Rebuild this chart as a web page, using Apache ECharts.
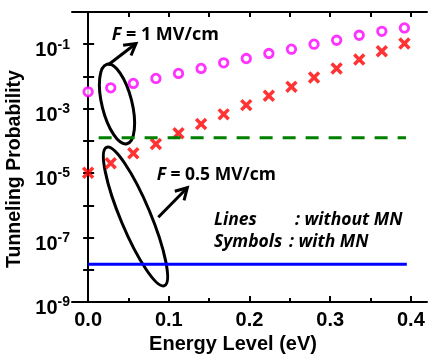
<!DOCTYPE html>
<html>
<head>
<meta charset="utf-8">
<script src="https://cdn.jsdelivr.net/npm/echarts@6/dist/echarts.min.js"></script>
<style>
html,body{margin:0;padding:0;background:#fff;}
#chart{width:429px;height:354px;}
</style>
</head>
<body>
<div id="chart"></div>
<script>
// ---- data ----
var energy = [0, 0.028, 0.056, 0.084, 0.112, 0.14, 0.168, 0.196, 0.224, 0.252, 0.28, 0.308, 0.336, 0.364, 0.392];
var withMN1 = [3.33e-3, 4.44e-3, 6.07e-3, 8.67e-3, 1.24e-2, 1.77e-2, 2.64e-2, 3.61e-2, 5.15e-2, 7.0e-2, 1.0e-1, 1.33e-1, 1.90e-1, 2.52e-1, 3.20e-1];
var withMN05 = [1.03e-5, 2.03e-5, 4.13e-5, 8.02e-5, 1.72e-4, 3.33e-4, 6.67e-4, 1.29e-3, 2.51e-3, 4.76e-3, 9.31e-3, 1.77e-2, 3.36e-2, 6.07e-2, 1.05e-1];
var lineX1 = [0.013, 0.394];
var noMN1 = [1.26e-4, 1.26e-4];
var lineX05 = [0, 0.395];
var noMN05 = [1.48e-8, 1.48e-8];
var xLabels = [0, 0.1, 0.2, 0.3, 0.4];
var xMinor = [0.05, 0.15, 0.25, 0.35];
var xTop = [0, 0.05, 0.1, 0.15, 0.2, 0.25, 0.3, 0.35, 0.4];

function pairs(xs, ys){ return xs.map(function(x,i){ return [x, ys[i]]; }); }

var chart = echarts.init(document.getElementById('chart'), null, {renderer:'canvas'});
var AX = {color:'#000', width:2};
var crossPath = 'path://M-1,-0.25H-0.25V-1H0.25V-0.25H1V0.25H0.25V1H-0.25V0.25H-1Z';

function arrow(x1,y1,x2,y2,len){
  var a = Math.atan2(y1-y2, x1-x2);
  var d = Math.PI/6;
  return [
    {type:'polyline', shape:{points:[[x1,y1],[x2,y2]]}, style:{stroke:'#000', lineWidth:3, fill:null}},
    {type:'polyline', shape:{points:[[x2+len*Math.cos(a+d), y2+len*Math.sin(a+d)],[x2,y2],[x2+len*Math.cos(a-d), y2+len*Math.sin(a-d)]]}, style:{stroke:'#000', lineWidth:3, fill:null, lineJoin:'miter'}}
  ];
}
var FF = 'Open Sans';
function rt(fs, it){ return {fontSize:fs, fontFamily:FF, fontWeight:700, fontStyle: it ? 'italic':'normal', fill:'#000'}; }
function txt(x, y, text, fs, rich){
  return {type:'text', x:x, y:y, style:{text:text, rich:rich, fontSize:fs, fontFamily:FF, fontWeight:700, fill:'#000', align:'left', verticalAlign:'middle'}};
}

var graphics = [
  {type:'ellipse', x:117, y:104, rotation:14*Math.PI/180, shape:{cx:0, cy:0, rx:15, ry:41}, style:{fill:null, stroke:'#000', lineWidth:3}},
  {type:'ellipse', x:135.5, y:216.5, rotation:22.7*Math.PI/180, shape:{cx:0, cy:0, rx:15, ry:75}, style:{fill:null, stroke:'#000', lineWidth:3}},
  txt(111.7, 35, '{i|F}{n| = 1 MV/cm}', 18, {i:rt(18,true), n:rt(18,false)}),
  txt(156.7, 175, '{i|F}{n| = 0.5 MV/cm}', 17.5, {i:rt(17.5,true), n:rt(17.5,false)}),
  txt(214, 220, '{i|Lines}', 17.5, {i:rt(17.5,true)}),
  txt(295, 220, '{i|: without MN}', 17.5, {i:rt(17.5,true)}),
  txt(214, 242, '{i|Symbols}', 17.5, {i:rt(17.5,true)}),
  txt(289, 242, '{i|: with MN}', 17.5, {i:rt(17.5,true)})
].concat(arrow(108,65,136,43.5,13)).concat(arrow(158.3,217.3,187.3,187.7,13));

var option = {
  animation:false,
  backgroundColor:'#fff',
  grid:{left:72, right:2, top:12, bottom:52, containLabel:false, outerBoundsMode:'none'},
  xAxis:[
    {type:'value', min:-0.02, max:0.42, position:'bottom',
     axisLine:{show:true, lineStyle:AX},
     axisTick:{show:true, inside:true, length:6, customValues:xLabels, lineStyle:AX},
     axisLabel:{customValues:xLabels, formatter:function(v){return v.toFixed(1);}, fontSize:20, fontWeight:'bold', fontFamily:'Liberation Sans', color:'#000', margin:8},
     splitLine:{show:false},
     name:'Energy Level (eV)', nameLocation:'middle', nameGap:22,
     nameTextStyle:{fontSize:20, fontWeight:'bold', fontFamily:'Liberation Sans', color:'#000', padding:[0,33,0,0]}},
    {type:'value', min:-0.02, max:0.42, position:'bottom',
     axisLine:{show:false}, axisTick:{show:true, inside:true, length:4, customValues:xMinor, lineStyle:AX},
     axisLabel:{show:false}, splitLine:{show:false}},
    {type:'value', min:-0.02, max:0.42, position:'top',
     axisLine:{show:true, lineStyle:AX}, axisTick:{show:true, inside:true, length:5, customValues:xTop, lineStyle:AX},
     axisLabel:{show:false}, splitLine:{show:false}}
  ],
  yAxis:[
    {type:'log', logBase:10, min:1e-9, max:1, splitNumber:9, position:'left',
     axisLine:{show:true, lineStyle:AX},
     axisTick:{show:true, inside:true, length:6, lineStyle:AX},
     axisLabel:{margin:2, padding:[10,0,0,0], formatter:function(v){
        var e = Math.round(Math.log(v)/Math.LN10);
        if (e % 2 === 0) return '';
        return '{b|10}{s|' + e + '}';
      },
      rich:{
        b:{fontSize:20, fontWeight:'bold', fontFamily:'Liberation Sans', color:'#000', lineHeight:23, verticalAlign:'bottom'},
        s:{fontSize:14, fontWeight:'bold', fontFamily:'Liberation Sans', color:'#000', lineHeight:8, verticalAlign:'top'}
      }},
     splitLine:{show:false}, minorTick:{show:false},
     name:'Tunneling Probability', nameLocation:'middle', nameGap:39,
     nameTextStyle:{fontSize:19.5, fontWeight:'bold', fontFamily:'Liberation Sans', color:'#000', padding:[0,24,0,0]}},
    {type:'log', logBase:10, min:1e-9, max:1, splitNumber:9, position:'right',
     axisLine:{show:true, lineStyle:AX},
     axisTick:{show:true, inside:true, length:5, lineStyle:AX},
     axisLabel:{show:false}, splitLine:{show:false}}
  ],
  series:[
    {type:'line', xAxisIndex:0, yAxisIndex:0, data:pairs(lineX05, noMN05), showSymbol:false, symbol:'none',
     lineStyle:{color:'#0000ff', width:3}},
    {type:'line', xAxisIndex:0, yAxisIndex:0, data:pairs(lineX1, noMN1), showSymbol:false, symbol:'none',
     lineStyle:{color:'#008000', width:3, type:[13,10]}},
    {type:'scatter', xAxisIndex:0, yAxisIndex:0, data:pairs(energy, withMN1), symbol:'circle', symbolSize:8.5,
     itemStyle:{color:'#ffffff', borderColor:'#ff00ff', borderWidth:2.8}},
    {type:'scatter', xAxisIndex:0, yAxisIndex:0, data:pairs(energy, withMN05), symbol:crossPath, symbolSize:14, symbolRotate:45,
     itemStyle:{color:'#ff0000'}}
  ],
  graphic:graphics
};
chart.setOption(option);
</script>
</body>
</html>
